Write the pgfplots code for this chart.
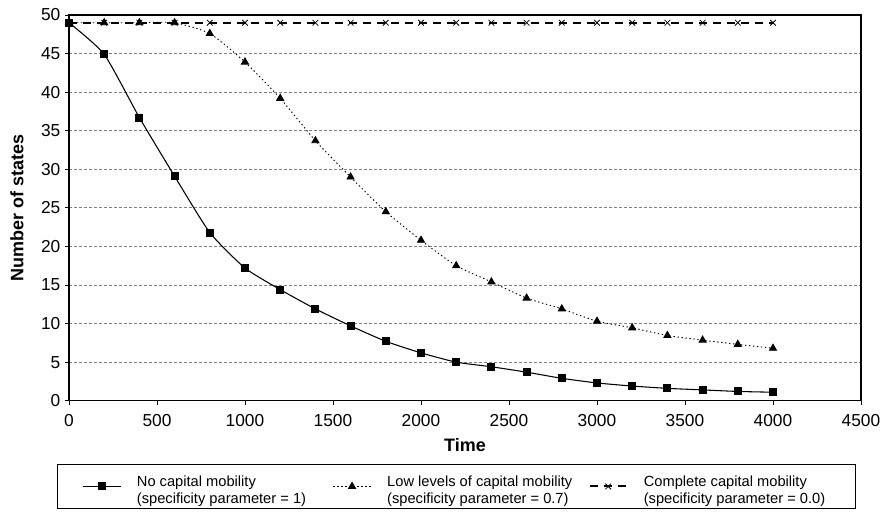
\documentclass[border=0pt]{standalone}
\usepackage{pgfplots}
\pgfplotsset{compat=1.18}
\usepackage{fontspec}
\setmainfont{Liberation Sans}
\begin{document}
\begin{tikzpicture}
\path[use as bounding box] (-51.75pt,-85.725pt) rectangle (615pt,300.525pt);
\begin{axis}[
  scale only axis,
  width=594pt, height=289.275pt,
  xmin=0, xmax=4500, ymin=0, ymax=50,
  xtick={0,500,...,4500},
  ytick={0,5,...,50},
  xtick pos=bottom, ytick pos=left,
  tick align=outside,
  major tick length=3pt,
  tick style={black, line width=0.7pt},
  axis line style={black, line width=0.9pt},
  /pgf/number format/assume math mode=true,
  /pgf/number format/set thousands separator={},
  tick label style={font=\fontsize{13}{15}\selectfont},
  x tick label style={yshift=-4pt},
  label style={font=\fontsize{13.5}{16}\selectfont\bfseries},
  xlabel={Time},
  ylabel={Number of states},
  x label style={at={(axis description cs:0.5,-0.114)}, anchor=center},
  y label style={at={(axis description cs:-0.0657,0.5)}, anchor=center},
  ymajorgrids,
  major grid style={gray, line width=0.6pt, dash pattern=on 2.25pt off 1.5pt},
  legend columns=3,
  legend cell align=left,
  legend image code/.code={\draw[mark repeat=2,mark phase=2,#1] plot coordinates {(0pt,0pt) (14pt,0pt) (28pt,0pt)};},
  legend style={
    at={(axis description cs:-0.01515,-0.1645)}, anchor=north west,
    draw=black, line width=0.8pt,
    font=\fontsize{11}{12.5}\selectfont,
    inner xsep=18.75pt, inner ysep=8.5pt,
    nodes={inner sep=0pt},
    /tikz/every odd column/.append style={column sep=12pt},
    /tikz/every even column/.append style={column sep=0pt},
  },
]
\addplot[black, line width=0.8pt, smooth, tension=0.35, mark=square*, mark size=2.6pt, mark options={solid}]
coordinates {
(0,49) (200,44.9) (400,36.7) (600,29.1) (800,21.8) (1000,17.2) (1200,14.4)
(1400,11.9) (1600,9.7) (1800,7.7) (2000,6.2) (2200,5.0) (2400,4.4) (2600,3.7)
(2800,2.9) (3000,2.3) (3200,1.9) (3400,1.6) (3600,1.4) (3800,1.2) (4000,1.1)
};
\addlegendentry{\parbox[c]{147pt}{No capital mobility\\(specificity parameter = 1)}}
\addplot[black, line width=0.7pt, smooth, tension=0.35, dash pattern=on 1pt off 2pt, mark=triangle*, mark size=3pt, mark options={solid}]
coordinates {
(0,49) (200,49) (400,49) (600,49) (800,47.6) (1000,43.9) (1200,39.2)
(1400,33.7) (1600,29.0) (1800,24.5) (2000,20.8) (2200,17.5) (2400,15.4) (2600,13.3)
(2800,11.9) (3000,10.3) (3200,9.45) (3400,8.45) (3600,7.85) (3800,7.3) (4000,6.8)
};
\addlegendentry{\parbox[c]{151pt}{Low levels of capital mobility\\(specificity parameter = 0.7)}}
\addplot[black, line width=1.5pt, dash pattern=on 6pt off 4.5pt, mark=x, mark size=3pt, mark options={solid, line width=0.6pt}]
coordinates {
(0,49) (200,49) (400,49) (600,49) (800,49) (1000,49) (1200,49)
(1400,49) (1600,49) (1800,49) (2000,49) (2200,49) (2400,49) (2600,49)
(2800,49) (3000,49) (3200,49) (3400,49) (3600,49) (3800,49) (4000,49)
};
\addlegendentry{\parbox[c]{140pt}{Complete capital mobility\\(specificity parameter = 0.0)}}
\end{axis}
\end{tikzpicture}
\end{document}
